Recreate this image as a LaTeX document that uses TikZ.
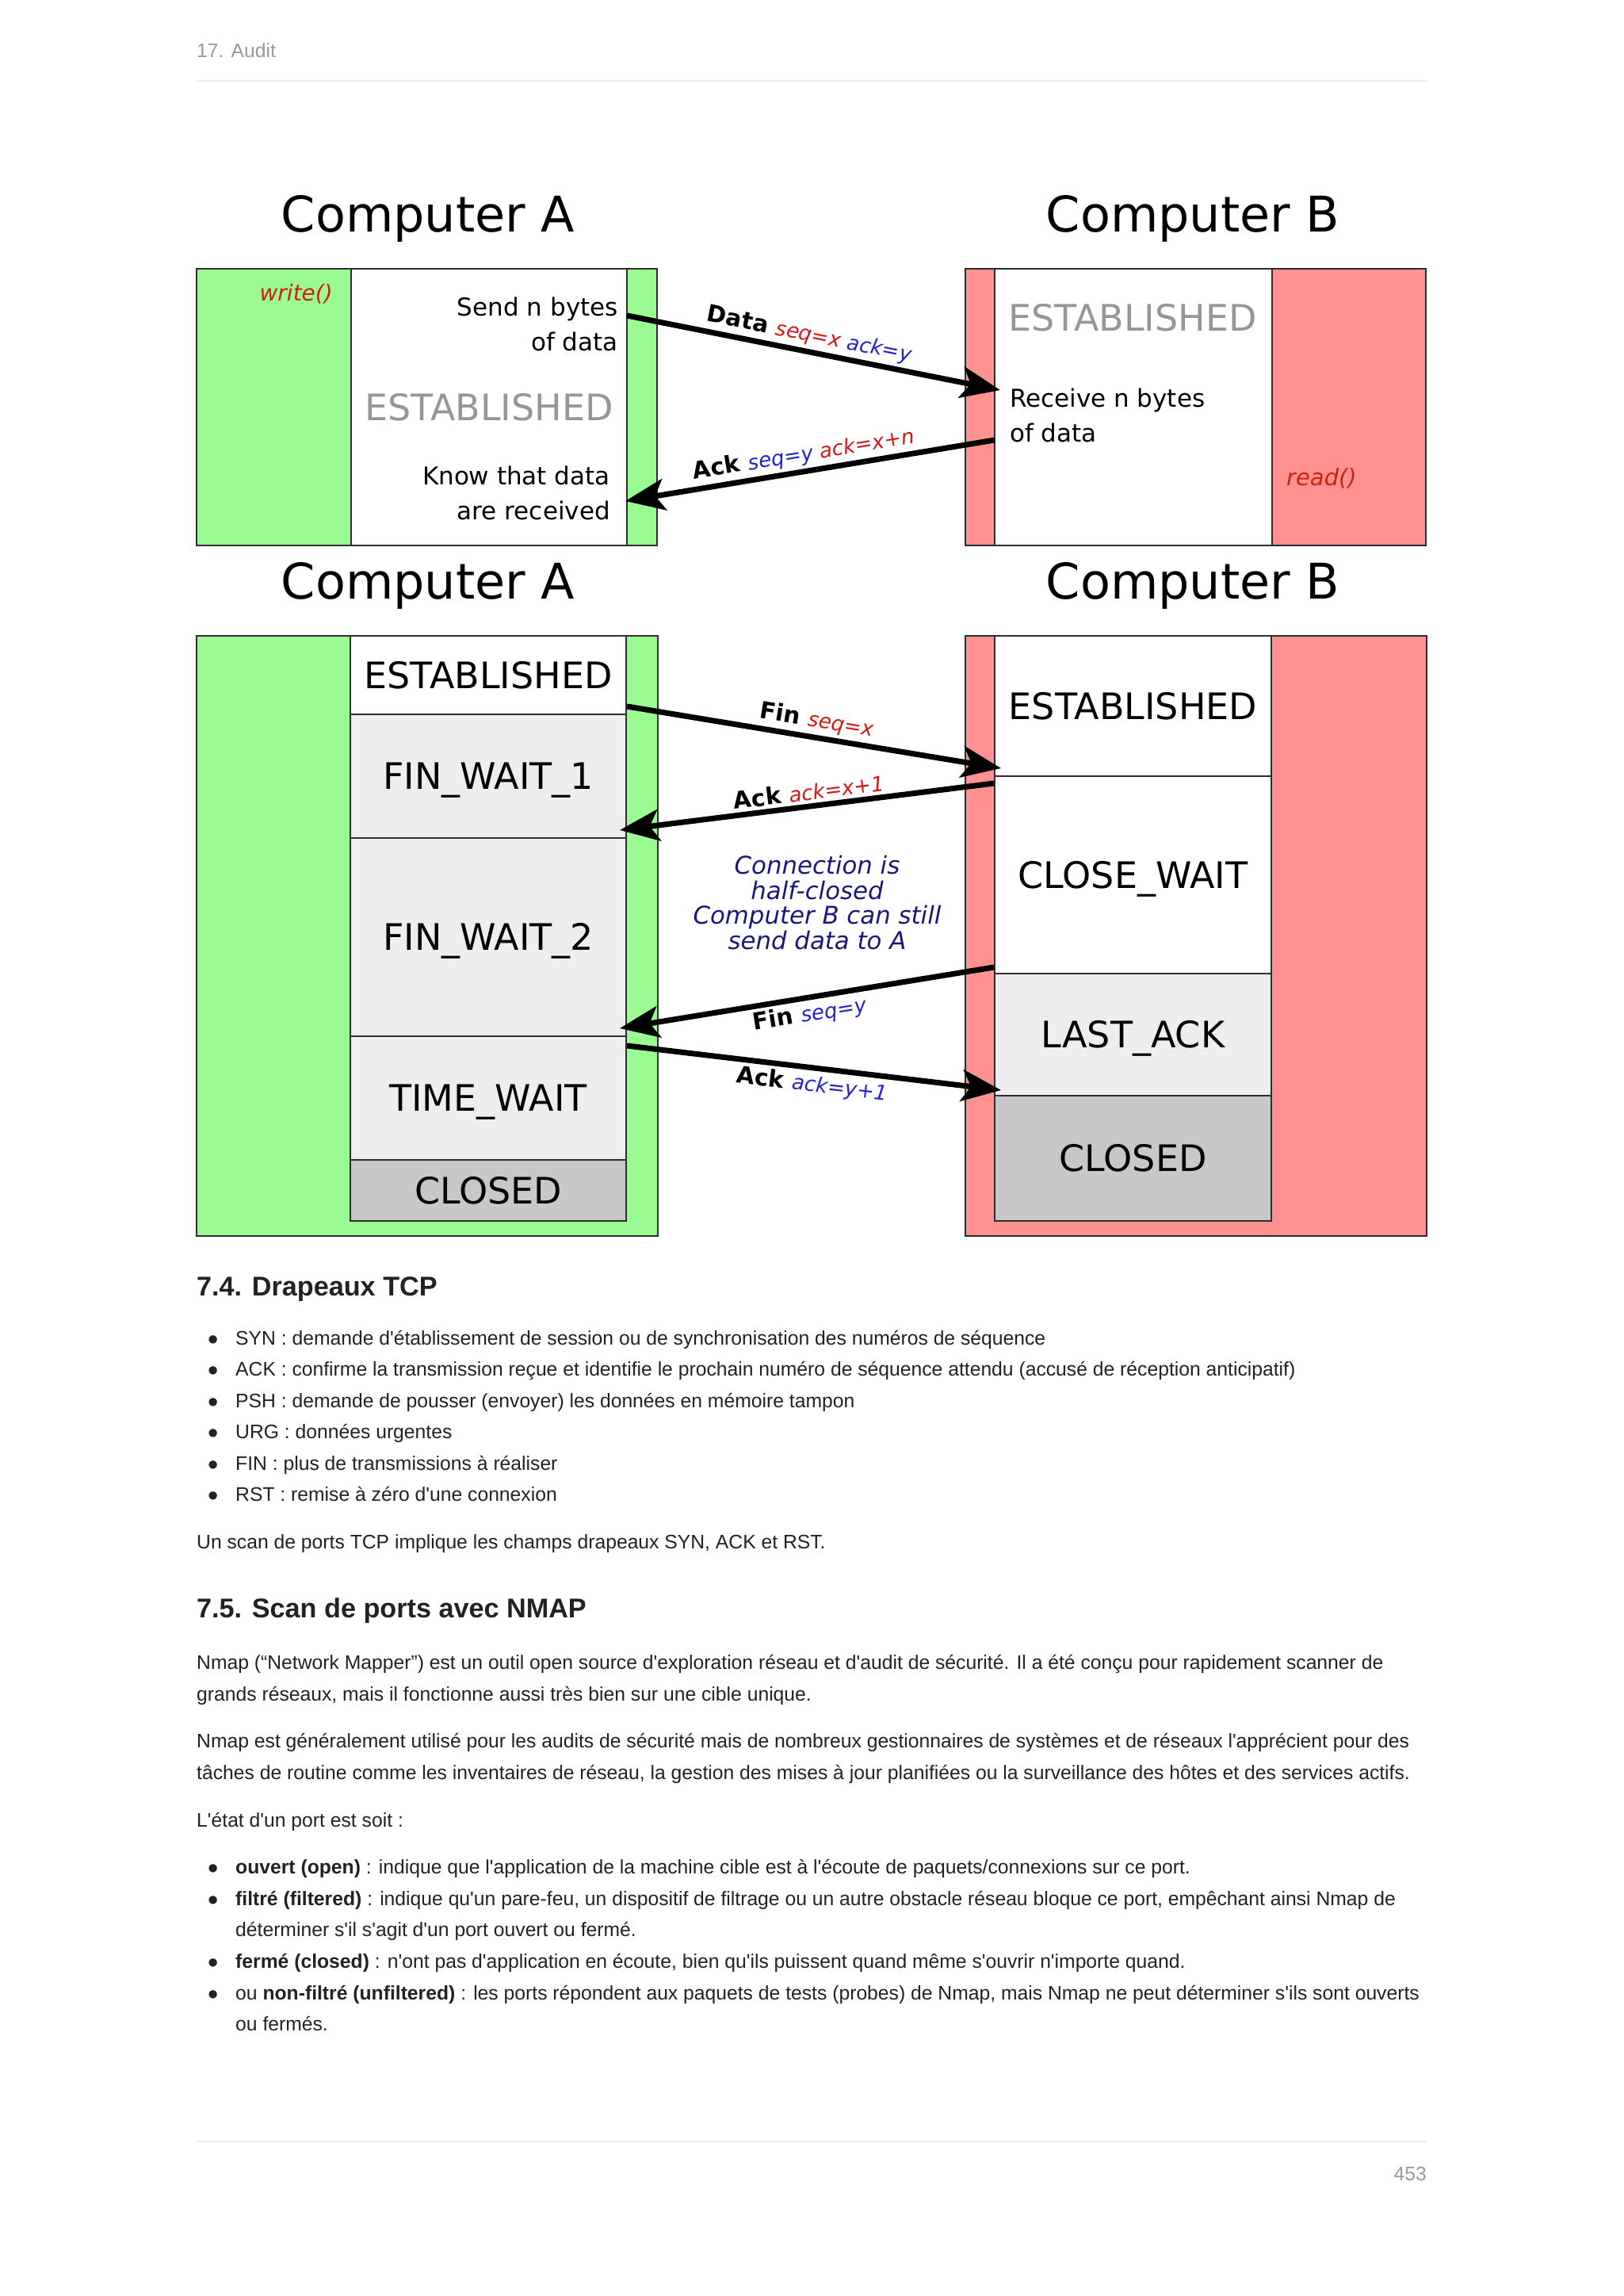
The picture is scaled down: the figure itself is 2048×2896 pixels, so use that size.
\documentclass[tikz,border=0pt]{standalone}
\usepackage{fontspec}
\setmainfont{Liberation Sans}[Ligatures=TeXOff]
\newfontfamily\dvs{DejaVu Sans}
\usetikzlibrary{arrows.meta}
\definecolor{pgreen}{RGB}{154,251,146}
\definecolor{pred}{RGB}{255,145,145}
\definecolor{lgray}{RGB}{238,238,240}
\definecolor{cgray}{RGB}{200,200,202}
\definecolor{bordc}{RGB}{45,45,45}
\definecolor{estgray}{RGB}{150,150,150}
\definecolor{lblred}{RGB}{210,25,25}
\definecolor{lblblue}{RGB}{35,35,200}
\definecolor{navyc}{RGB}{25,25,125}
\definecolor{fnred}{RGB}{205,35,10}
\definecolor{bodyc}{RGB}{34,34,34}
\definecolor{hdrgray}{RGB}{153,153,153}
\definecolor{rulec}{RGB}{236,236,236}
\newcommand\fsz[2]{\fontsize{#1}{#2}\selectfont}
\begin{document}
\begin{tikzpicture}[x=1pt,y=-1pt,
  outerbox/.style={draw=bordc, line width=2.5pt, inner sep=0pt, outer sep=0pt, anchor=north west},
  colbox/.style={draw=bordc, line width=1.8pt, inner sep=0pt, outer sep=0pt, anchor=north west, fill=white},
  stbox/.style={draw=bordc, line width=1.5pt, inner sep=0pt, outer sep=0pt, font=\dvs\fsz{46}{54}, text height=33pt, text depth=0pt},
  title/.style={anchor=base, inner sep=0pt, font=\dvs\fsz{62}{70}},
  dtext/.style={inner sep=0pt, font=\dvs\fsz{31}{43.7}},
  arr/.style={line width=7pt, -{Stealth[length=50pt,width=40pt,inset=12pt]}},
  lbl/.style={sloped, inner sep=4pt, font=\dvs\bfseries\fsz{29.5}{34}},
  body/.style={anchor=base west, inner sep=0pt, font=\fsz{24.7}{29}, text=bodyc},
  bul/.style={anchor=base west, inner sep=0pt, font=\fsz{38}{40}, text=bodyc},
  head/.style={anchor=base west, inner sep=0pt, font=\bfseries\fsz{34.2}{40}, text=bodyc}
]
\useasboundingbox (0,0) rectangle (2048,2896);
\fill[white] (0,0) rectangle (2048,2896);

% page header / footer
\node[body, text=hdrgray] (hdr) at (248,72) {17. Audit};
\coordinate (hr1) at (248,102); \coordinate (hr2) at (1800,102);
\draw[rulec, line width=2.5pt] (hr1) -- (hr2);
\coordinate (fr1) at (248,2701); \coordinate (fr2) at (1800,2701);
\draw[rulec, line width=2.5pt] (fr1) -- (fr2);
\node[body, text=hdrgray, anchor=base east] (pgno) at (1800,2750) {453};

% ===== top diagram =====
\node[title] (tA1) at (540,292) {Computer A};
\node[title] (tB1) at (1505,292) {Computer B};

\node[outerbox, fill=pgreen, minimum width=581pt, minimum height=349pt] (Atop) at (248,339) {};
\node[colbox, minimum width=348pt, minimum height=349pt] (Atopcol) at (443,339) {};
\node[outerbox, fill=pred, minimum width=581pt, minimum height=349pt] (Btop) at (1218,339) {};
\node[colbox, minimum width=350pt, minimum height=349pt] (Btopcol) at (1255,339) {};

\node[dtext, anchor=base east, text=fnred, font=\dvs\itshape\fsz{28}{34}] (write) at (420,379) {write()};
\node[dtext, anchor=base east, align=right] (send) at (780,442) {Send n bytes\\of data};
\node[dtext, anchor=base, text=estgray, font=\dvs\fsz{46}{54}] (estA) at (617,530) {ESTABLISHED};
\node[dtext, anchor=base east, align=right] (know) at (770,655) {Know that data\\are received};

\node[dtext, anchor=base, text=estgray, font=\dvs\fsz{46}{54}] (estB) at (1429,417) {ESTABLISHED};
\node[dtext, anchor=base west, align=left] (recv) at (1274,557) {Receive n bytes\\of data};
\node[dtext, anchor=base west, text=fnred, font=\dvs\itshape\fsz{29}{34}] (read) at (1623,612) {read()};

\coordinate (dS) at (791,398); \coordinate (dE) at (1262,492);
\draw[arr] (dS) -- node[lbl, above, pos=0.48] (ldata) {Data {\mdseries\itshape\fsz{26}{30}\color{lblred}seq=x \color{lblblue}ack=y}} (dE);
\coordinate (aS) at (1255,555); \coordinate (aE) at (789,632);
\draw[arr] (aS) -- node[lbl, above, pos=0.51] (lack) {Ack {\mdseries\itshape\fsz{26}{30}\color{lblblue}seq=y \color{lblred}ack=x+n}} (aE);

% ===== bottom diagram =====
\node[title] (tA2) at (540,755) {Computer A};
\node[title] (tB2) at (1505,755) {Computer B};

\node[outerbox, fill=pgreen, minimum width=582pt, minimum height=757pt] (Abot) at (248,802) {};
\node[outerbox, fill=pred, minimum width=582pt, minimum height=757pt] (Bbot) at (1218,802) {};

\node[stbox, fill=white, minimum width=348pt, minimum height=99pt] (aEst) at (616,851.5) {ESTABLISHED};
\node[stbox, fill=lgray, minimum width=348pt, minimum height=156pt] (aFw1) at (616,979) {FIN\_WAIT\_1};
\node[stbox, fill=lgray, minimum width=348pt, minimum height=250pt] (aFw2) at (616,1182) {FIN\_WAIT\_2};
\node[stbox, fill=lgray, minimum width=348pt, minimum height=156pt] (aTw) at (616,1385) {TIME\_WAIT};
\node[stbox, fill=cgray, minimum width=348pt, minimum height=77pt] (aCl) at (616,1501.5) {CLOSED};

\node[stbox, fill=white, minimum width=349pt, minimum height=177pt] (bEst) at (1429.5,890.5) {ESTABLISHED};
\node[stbox, fill=white, minimum width=349pt, minimum height=249pt] (bCw) at (1429.5,1103.5) {CLOSE\_WAIT};
\node[stbox, fill=lgray, minimum width=349pt, minimum height=154pt] (bLa) at (1429.5,1305) {LAST\_ACK};
\node[stbox, fill=cgray, minimum width=349pt, minimum height=158pt] (bCl) at (1429.5,1461) {CLOSED};

\coordinate (f1S) at (791,891); \coordinate (f1E) at (1263,969);
\draw[arr] (f1S) -- node[lbl, above, pos=0.5] (lf1) {Fin {\mdseries\itshape\fsz{26}{30}\color{lblred}seq=x}} (f1E);
\coordinate (a1S) at (1254,988); \coordinate (a1E) at (782,1047);
\draw[arr] (a1S) -- node[lbl, above, pos=0.49] (la1) {Ack {\mdseries\itshape\fsz{26}{30}\color{lblred}ack=x+1}} (a1E);
\coordinate (f2S) at (1254,1220); \coordinate (f2E) at (782,1297);
\draw[arr] (f2S) -- node[lbl, below, pos=0.5] (lf2) {Fin {\mdseries\itshape\fsz{26}{30}\color{lblblue}seq=y}} (f2E);
\coordinate (a2S) at (791,1319); \coordinate (a2E) at (1263,1375);
\draw[arr] (a2S) -- node[lbl, below, pos=0.5] (la2) {Ack {\mdseries\itshape\fsz{26}{30}\color{lblblue}ack=y+1}} (a2E);

\node[inner sep=0pt, anchor=base, align=center, text=navyc, font=\dvs\itshape\fsz{30.8}{31.5}] (half) at (1031,1197) {Connection is\\half-closed\\Computer B can still\\send data to A};

% ===== text section =====
\node[head] (h74) at (248,1634) {7.4. Drapeaux TCP};
\node[bul] (bu1) at (262,1702) {•};
\node[body] (t1) at (297,1696) {SYN : demande d'établissement de session ou de synchronisation des numéros de séquence};
\node[bul] (bu2) at (262,1741.5) {•};
\node[body] (t2) at (297,1735.5) {ACK : confirme la transmission reçue et identifie le prochain numéro de séquence attendu (accusé de réception anticipatif)};
\node[bul] (bu3) at (262,1781) {•};
\node[body] (t3) at (297,1775) {PSH : demande de pousser (envoyer) les données en mémoire tampon};
\node[bul] (bu4) at (262,1820.5) {•};
\node[body] (t4) at (297,1814.5) {URG : données urgentes};
\node[bul] (bu5) at (262,1860) {•};
\node[body] (t5) at (297,1854) {FIN : plus de transmissions à réaliser};
\node[bul] (bu6) at (262,1899.5) {•};
\node[body] (t6) at (297,1893.5) {RST : remise à zéro d'une connexion};
\node[body] (p0) at (248,1953) {Un scan de ports TCP implique les champs drapeaux SYN, ACK et RST.};

\node[head] (h75) at (248,2040) {7.5. Scan de ports avec NMAP};
\node[body] (p1a) at (248,2105) {Nmap (“Network Mapper”) est un outil open source d'exploration réseau et d'audit de sécurité. Il a été conçu pour rapidement scanner de};
\node[body] (p1b) at (248,2145) {grands réseaux, mais il fonctionne aussi très bien sur une cible unique.};
\node[body] (p2a) at (248,2204.5) {Nmap est généralement utilisé pour les audits de sécurité mais de nombreux gestionnaires de systèmes et de réseaux l'apprécient pour des};
\node[body] (p2b) at (248,2244.5) {tâches de routine comme les inventaires de réseau, la gestion des mises à jour planifiées ou la surveillance des hôtes et des services actifs.};
\node[body] (p3) at (248,2304) {L'état d'un port est soit :};
\node[bul] (bn1) at (262,2369) {•};
\node[body] (n1) at (297,2363) {\textbf{ouvert (open)} : indique que l'application de la machine cible est à l'écoute de paquets/connexions sur ce port.};
\node[bul] (bn2) at (262,2409) {•};
\node[body] (n2a) at (297,2403) {\textbf{filtré (filtered)} : indique qu'un pare-feu, un dispositif de filtrage ou un autre obstacle réseau bloque ce port, empêchant ainsi Nmap de};
\node[body] (n2b) at (297,2442) {déterminer s'il s'agit d'un port ouvert ou fermé.};
\node[bul] (bn3) at (262,2488) {•};
\node[body] (n3) at (297,2482) {\textbf{fermé (closed)} : n'ont pas d'application en écoute, bien qu'ils puissent quand même s'ouvrir n'importe quand.};
\node[bul] (bn4) at (262,2528) {•};
\node[body] (n4a) at (297,2522) {ou \textbf{non-filtré (unfiltered)} : les ports répondent aux paquets de tests (probes) de Nmap, mais Nmap ne peut déterminer s'ils sont ouverts};
\node[body] (n4b) at (297,2561) {ou fermés.};
\end{tikzpicture}
\end{document}
